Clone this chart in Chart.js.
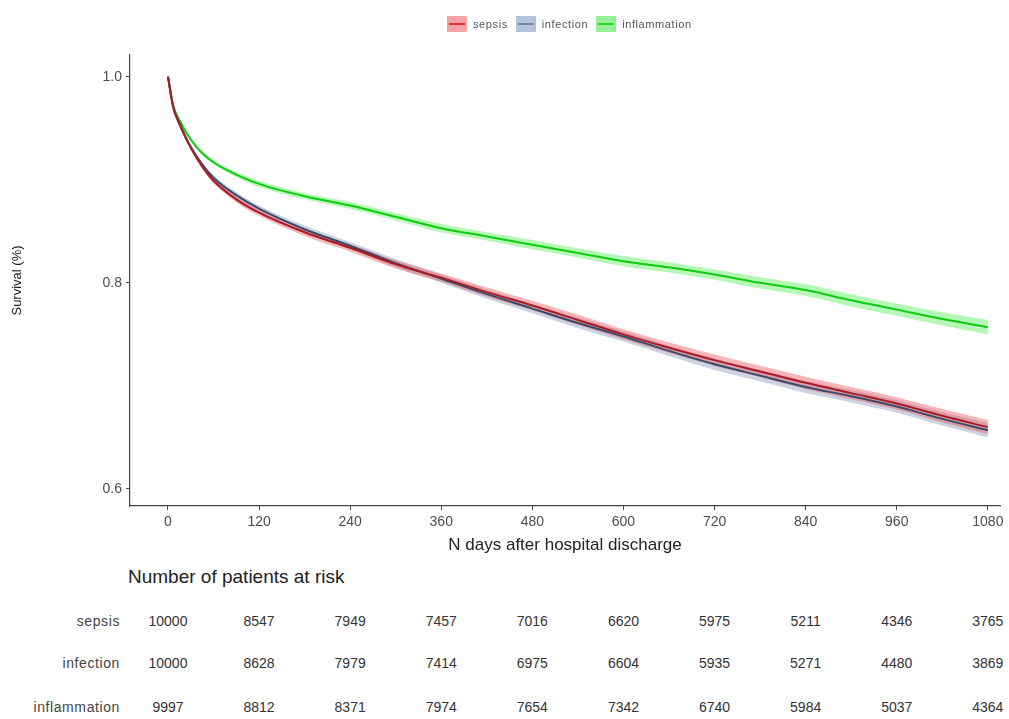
<!DOCTYPE html>
<html>
<head>
<meta charset="utf-8">
<script src="https://cdn.jsdelivr.net/npm/chart.js@4/dist/chart.umd.min.js"></script>
<style>
  body { margin: 0; background: #fff; font-family: 'Liberation Sans', Arial, sans-serif; }
  #wrap { position: relative; width: 1009px; height: 719px; }
  #chart { position: absolute; left: 0; top: 0; }
  .legend { position: absolute; top: 16px; left: 447px; display: flex; align-items: center; font-size: 11px; letter-spacing: 0.6px; color: #555; }
  .legend .box { width: 20px; height: 16px; position: relative; margin-right: 6px; }
  .legend .box span { position: absolute; left: 2px; right: 2px; top: 7px; height: 2px; }
  .legend .item { display: flex; align-items: center; margin-right: 8px; }
  .txt { position: absolute; white-space: nowrap; transform: translateY(-50%); }
</style>
</head>
<body>
<div id="wrap">
  <canvas id="chart" width="1009" height="560"></canvas>
  <div class="legend" id="legend"></div>
</div>
<script>
// ---- data ----
const groups = ['sepsis', 'infection', 'inflammation'];
const days = [0, 7, 15, 30, 45, 60, 90, 120, 180, 240, 300, 360, 420, 480, 540, 600, 660, 720, 780, 840, 900, 960, 1020, 1080];
const sepsisSurv = [1.0, 0.970, 0.954, 0.931, 0.913, 0.899, 0.881, 0.868, 0.849, 0.834, 0.818, 0.805, 0.791, 0.778, 0.764, 0.750, 0.737, 0.725, 0.714, 0.703, 0.693, 0.683, 0.671, 0.660];
const infectionSurv = [1.0, 0.970, 0.955, 0.932, 0.915, 0.902, 0.885, 0.872, 0.852, 0.836, 0.819, 0.804, 0.789, 0.775, 0.761, 0.748, 0.734, 0.721, 0.710, 0.699, 0.690, 0.680, 0.668, 0.657];
const inflammationSurv = [1.0, 0.972, 0.958, 0.939, 0.926, 0.917, 0.905, 0.896, 0.884, 0.875, 0.864, 0.853, 0.845, 0.837, 0.829, 0.821, 0.815, 0.808, 0.800, 0.793, 0.783, 0.774, 0.765, 0.757];
// half width of the confidence ribbon
const sepsisCi = [0, 0.001, 0.0015, 0.002, 0.002, 0.0025, 0.003, 0.003, 0.0035, 0.0035, 0.004, 0.004, 0.0045, 0.0045, 0.005, 0.005, 0.005, 0.0055, 0.0055, 0.006, 0.006, 0.006, 0.0065, 0.007];
const infectionCi = [0, 0.001, 0.0015, 0.002, 0.002, 0.0025, 0.003, 0.003, 0.0035, 0.0035, 0.004, 0.004, 0.0045, 0.0045, 0.005, 0.005, 0.005, 0.0055, 0.0055, 0.006, 0.006, 0.006, 0.0065, 0.007];
const inflammationCi = [0, 0.001, 0.0015, 0.002, 0.002, 0.002, 0.0025, 0.003, 0.003, 0.0035, 0.0035, 0.004, 0.004, 0.0045, 0.0045, 0.005, 0.005, 0.005, 0.0055, 0.0055, 0.006, 0.006, 0.0065, 0.007];
const yTicks = [0.6, 0.8, 1.0];
const xTicks = [0, 120, 240, 360, 480, 600, 720, 840, 960, 1080];
const sepsisRisk = [10000, 8547, 7949, 7457, 7016, 6620, 5975, 5211, 4346, 3765];
const infectionRisk = [10000, 8628, 7979, 7414, 6975, 6604, 5935, 5271, 4480, 3869];
const inflammationRisk = [9997, 8812, 8371, 7974, 7654, 7342, 6740, 5984, 5037, 4364];

const FONT = "'Liberation Sans', Arial, sans-serif";
const style = {
    sepsis: { line: '#a81c26', band: 'rgba(238, 90, 95, 0.45)', legBox: '#f4a3a5', legLine: '#e8323a' },
    infection: { line: '#3c4a6a', band: 'rgba(140, 160, 192, 0.45)', legBox: '#b4c3d6', legLine: '#6d86a6' },
    inflammation: { line: '#10cc10', band: 'rgba(70, 235, 70, 0.40)', legBox: '#98f098', legLine: '#22dd22' }
};
const surv = { sepsis: sepsisSurv, infection: infectionSurv, inflammation: inflammationSurv };
const ci = { sepsis: sepsisCi, infection: infectionCi, inflammation: inflammationCi };
const risk = [sepsisRisk, infectionRisk, inflammationRisk];

// datasets: ribbon (lo + hi filled) then line on top
const datasets = [];
groups.forEach(g => {
    const lo = days.map((d, i) => ({ x: d, y: surv[g][i] - ci[g][i] }));
    const hi = days.map((d, i) => ({ x: d, y: surv[g][i] + ci[g][i] }));
    datasets.push({ data: lo, borderWidth: 0, pointRadius: 0, fill: false, order: 10, cubicInterpolationMode: 'monotone' });
    datasets.push({ data: hi, borderWidth: 0, pointRadius: 0, fill: '-1', backgroundColor: style[g].band, order: 10, cubicInterpolationMode: 'monotone' });
});
groups.forEach(g => {
    datasets.push({
        label: g,
        data: days.map((d, i) => ({ x: d, y: surv[g][i] })),
        borderColor: style[g].line,
        borderWidth: 2,
        pointRadius: 0,
        fill: false,
        order: 1,
        cubicInterpolationMode: 'monotone'
    });
});

const chart = new Chart(document.getElementById('chart'), {
    type: 'line',
    data: { datasets: datasets },
    options: {
        responsive: false,
        animation: false,
        devicePixelRatio: 1,
        layout: { padding: { top: 55, right: 9, left: 0, bottom: 0 } },
        plugins: { legend: { display: false }, tooltip: { enabled: false } },
        scales: {
            x: {
                type: 'linear',
                min: -50,
                max: 1096,
                afterBuildTicks: s => { s.ticks = xTicks.map(v => ({ value: v })); },
                afterFit: s => { s.height = 54; },
                ticks: { color: '#4d4d4d', font: { family: FONT, size: 14 }, padding: 4, maxRotation: 0, callback: v => String(v) },
                grid: { drawOnChartArea: false, drawTicks: true, tickLength: 4, color: '#444' },
                border: { display: true, color: '#444', width: 1.2 },
                title: { display: true, text: 'N days after hospital discharge', color: '#222', font: { family: FONT, size: 17 }, padding: { top: 0, bottom: 4 } }
            },
            y: {
                min: 0.5835,
                max: 1.021,
                afterBuildTicks: s => { s.ticks = yTicks.map(v => ({ value: v })); },
                afterFit: s => { s.width = 130; },
                ticks: { color: '#4d4d4d', font: { family: FONT, size: 14 }, padding: 4, callback: v => v.toFixed(1) },
                grid: { drawOnChartArea: false, drawTicks: true, tickLength: 4, color: '#444' },
                border: { display: true, color: '#444', width: 1.2 },
                title: { display: true, text: 'Survival (%)', color: '#222', font: { family: FONT, size: 13 }, padding: { top: 10, bottom: 0 } }
            }
        }
    }
});

// legend
const legend = document.getElementById('legend');
groups.forEach(g => {
    const item = document.createElement('div');
    item.className = 'item';
    item.innerHTML = `<div class="box" style="background:${style[g].legBox}"><span style="background:${style[g].legLine}"></span></div>${g}`;
    legend.appendChild(item);
});

// number at risk table, aligned to the x scale
const wrap = document.getElementById('wrap');
function addText(text, x, y, css) {
    const el = document.createElement('div');
    el.className = 'txt';
    el.textContent = text;
    el.style.left = x + 'px';
    el.style.top = y + 'px';
    Object.assign(el.style, css);
    wrap.appendChild(el);
    return el;
}
addText('Number of patients at risk', 128, 577, { fontSize: '19px', color: '#222' });
const rowY = [621, 663, 707];
const xs = chart.scales.x;
groups.forEach((g, r) => {
    addText(g, 0, rowY[r], { fontSize: '14px', letterSpacing: '0.6px', color: '#444', width: '120px', textAlign: 'right' });
    xTicks.forEach((d, c) => {
        const el = addText(String(risk[r][c]), xs.getPixelForValue(d), rowY[r], { fontSize: '14px', color: '#333' });
        el.style.transform = 'translate(-50%, -50%)';
    });
});
</script>
</body>
</html>
